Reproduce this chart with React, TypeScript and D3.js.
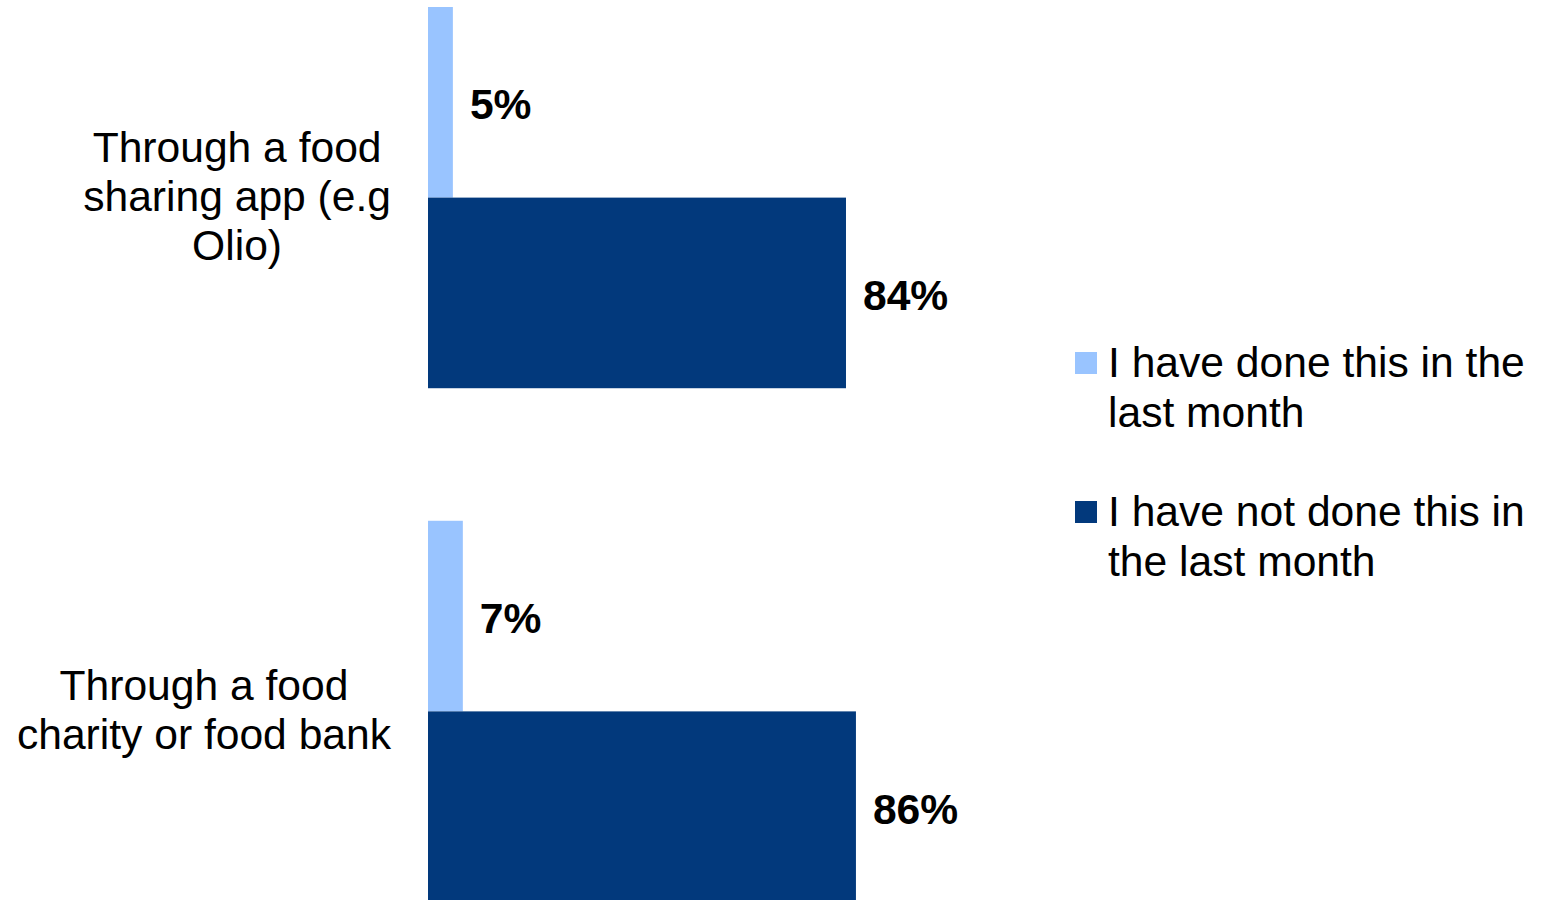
import React, { useEffect, useRef } from "react";
import * as d3 from "d3";

const categories = ["app", "charity"];
const categoryLines = [
  ["Through a food", "sharing app (e.g", "Olio)"],
  ["Through a food", "charity or food bank"],
];
const seriesNames = ["I have done this in the last month", "I have not done this in the last month"];
const legendLines = [
  ["I have done this in the", "last month"],
  ["I have not done this in", "the last month"],
];
const doneValues = [5, 7];
const notDoneValues = [84, 86];
const colors = ["#99C4FF", "#02397C"];

const W = 1557;
const H = 900;
const FONT = "'Liberation Sans', Arial, sans-serif";
const FS = 42.6;

export default function App() {
  const ref = useRef<SVGSVGElement | null>(null);
  useEffect(() => {
    const svg = d3.select(ref.current);
    svg.selectAll("*").remove();
    const x = d3.scaleLinear().domain([0, 100]).range([428, 428 + 497.6]);
    const y = d3.scaleBand().domain(categories).range([7, 902]).paddingInner(0.258).paddingOuter(0);
    const sub = d3.scaleBand().domain(["0", "1"]).range([0, y.bandwidth()]);
    const series = [doneValues, notDoneValues];

    categories.forEach((c, ci) => {
      const g = svg.append("g").attr("transform", `translate(0,${y(c)})`);
      series.forEach((vals, si) => {
        const y0 = sub(String(si))!;
        const bw = sub.bandwidth();
        g.append("rect")
          .attr("x", x(0))
          .attr("y", y0)
          .attr("width", x(vals[ci]) - x(0))
          .attr("height", bw)
          .attr("fill", colors[si]);
        g.append("text")
          .attr("x", x(vals[ci]) + 17)
          .attr("y", y0 + bw / 2 + 17)
          .attr("font-family", FONT)
          .attr("font-size", FS)
          .attr("font-weight", "bold")
          .attr("fill", "#000")
          .text(`${vals[ci]}%`);
      });
      // category label
      const lines = categoryLines[ci];
      const lh = 49;
      const center = y.bandwidth() / 2;
      const tg = g.append("g");
      const texts = lines.map((l, li) =>
        tg.append("text")
          .attr("y", center - ((lines.length - 1) * lh) / 2 + li * lh + 13.5)
          .attr("font-family", FONT)
          .attr("font-size", FS)
          .attr("text-anchor", "middle")
          .attr("fill", "#000")
          .text(l)
      );
      const maxW = d3.max(texts, (t) => (t.node() as SVGTextElement).getComputedTextLength()) || 0;
      texts.forEach((t) => t.attr("x", 391 - maxW / 2));
    });

    // legend
    const legendY = [363, 512];
    seriesNames.forEach((s, si) => {
      const lg = svg.append("g").attr("transform", `translate(1075,${legendY[si]})`);
      lg.append("rect").attr("x", 0).attr("y", -11).attr("width", 22).attr("height", 22).attr("fill", colors[si]);
      legendLines[si].forEach((l, li) => {
        lg.append("text")
          .attr("x", 33)
          .attr("y", 14 + li * 49.5)
          .attr("font-family", FONT)
          .attr("font-size", FS)
          .attr("fill", "#000")
          .text(l);
      });
    });
  }, []);
  return (
    <svg
      ref={ref}
      width={W}
      height={H}
      style={{ position: "fixed", left: 0, top: 0, background: "#fff" }}
    />
  );
}
